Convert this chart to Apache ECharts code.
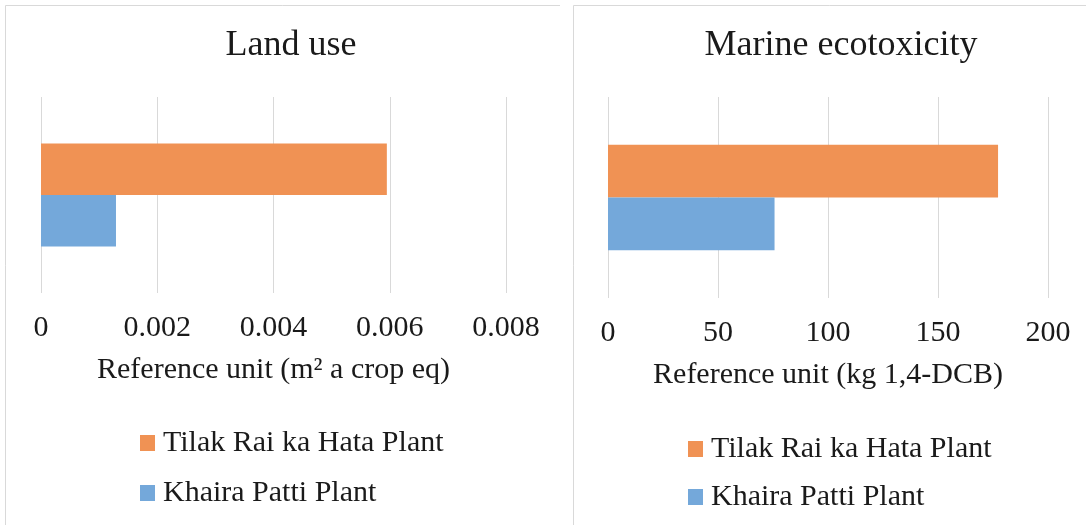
<!DOCTYPE html>
<html>
<head>
<meta charset="utf-8">
<script src="https://cdn.jsdelivr.net/npm/echarts@6/dist/echarts.min.js"></script>
<style>
  html, body { margin: 0; padding: 0; background: #ffffff; }
  #chart { width: 1086px; height: 525px; }
</style>
</head>
<body>
<div id="chart"></div>
<script>
// Impact categories and the two plants compared
const panelTitles = ['Land use', 'Marine ecotoxicity'];
const axisNames = ['Reference unit (m\u00B2 a crop eq)', 'Reference unit (kg 1,4-DCB)'];
const plants = ['Tilak Rai ka Hata Plant', 'Khaira Patti Plant'];
const category = ['Impact'];

// Values per plant, one per panel
const landUse = [0.00595, 0.00129];          // Tilak Rai ka Hata, Khaira Patti
const marineEcotox = [177.3, 75.7];          // Tilak Rai ka Hata, Khaira Patti

// Axis ranges
const landUseAxis = { min: 0, max: 0.008, interval: 0.002 };
const marineAxis = { min: 0, max: 200, interval: 50 };

const colors = ['#F09254', '#74A8DA'];
const FONT = '"Liberation Serif", "Times New Roman", serif';
const TXT = '#1a1a1a';
const GRIDC = '#d9d9d9';

const chart = echarts.init(document.getElementById('chart'));

function valueAxis(gridIndex, range, name, decimals) {
  return {
    type: 'value',
    gridIndex: gridIndex,
    min: range.min,
    max: range.max,
    interval: range.interval,
    name: name,
    nameLocation: 'middle',
    nameGap: 62,
    nameTextStyle: { fontFamily: FONT, fontSize: 30, color: TXT },
    axisLine: { show: false },
    axisTick: { show: false },
    axisLabel: {
      margin: 20,
      fontFamily: FONT,
      fontSize: 30,
      color: TXT,
      formatter: v => decimals ? (v === 0 ? '0' : v.toFixed(decimals)) : String(v)
    },
    splitLine: { show: true, lineStyle: { color: GRIDC, width: 1 } }
  };
}

function catAxis(gridIndex) {
  return {
    type: 'category',
    gridIndex: gridIndex,
    data: category,
    inverse: true,
    axisLine: { show: false },
    axisTick: { show: false },
    axisLabel: { show: false },
    splitLine: { show: false }
  };
}

function legend(left, top, gap) {
  return {
    orient: 'vertical',
    left: left,
    top: top,
    itemWidth: 15,
    itemHeight: 16,
    itemGap: gap,
    icon: 'rect',
    data: plants,
    selectedMode: false,
    textStyle: { fontFamily: FONT, fontSize: 30, color: TXT, padding: [0, 0, 0, 3] }
  };
}

function barSeries(name, axisIdx, value, color) {
  return {
    name: name,
    type: 'bar',
    xAxisIndex: axisIdx,
    yAxisIndex: axisIdx,
    data: [value],
    itemStyle: { color: color },
    barGap: '0%',
    barCategoryGap: '47.4%',
    silent: true
  };
}

chart.setOption({
  backgroundColor: '#ffffff',
  animation: false,
  color: colors,
  title: [
    { text: panelTitles[0], left: 286, top: 23, textAlign: 'center',
      textStyle: { fontFamily: FONT, fontSize: 36, fontWeight: 'normal', color: TXT } },
    { text: panelTitles[1], left: 836, top: 23, textAlign: 'center',
      textStyle: { fontFamily: FONT, fontSize: 36, fontWeight: 'normal', color: TXT } }
  ],
  legend: [
    legend(135, 423, 20),
    legend(683, 429, 18)
  ],
  grid: [
    { left: 41, top: 97, width: 465, height: 196, containLabel: false },
    { left: 608, top: 97, width: 440, height: 201, containLabel: false }
  ],
  xAxis: [
    valueAxis(0, landUseAxis, axisNames[0], 3),
    valueAxis(1, marineAxis, axisNames[1], 0)
  ],
  yAxis: [catAxis(0), catAxis(1)],
  series: [
    barSeries(plants[0], 0, landUse[0], colors[0]),
    barSeries(plants[1], 0, landUse[1], colors[1]),
    barSeries(plants[0], 1, marineEcotox[0], colors[0]),
    barSeries(plants[1], 1, marineEcotox[1], colors[1])
  ],
  graphic: [
    // panel frames
    { type: 'polyline', silent: true, shape: { points: [[5.5, 525], [5.5, 5.5], [560, 5.5]] },
      style: { stroke: GRIDC, lineWidth: 1, fill: null } },
    { type: 'polyline', silent: true, shape: { points: [[573.5, 525], [573.5, 5.5], [1086, 5.5]] },
      style: { stroke: GRIDC, lineWidth: 1, fill: null } }
  ]
});
</script>
</body>
</html>
